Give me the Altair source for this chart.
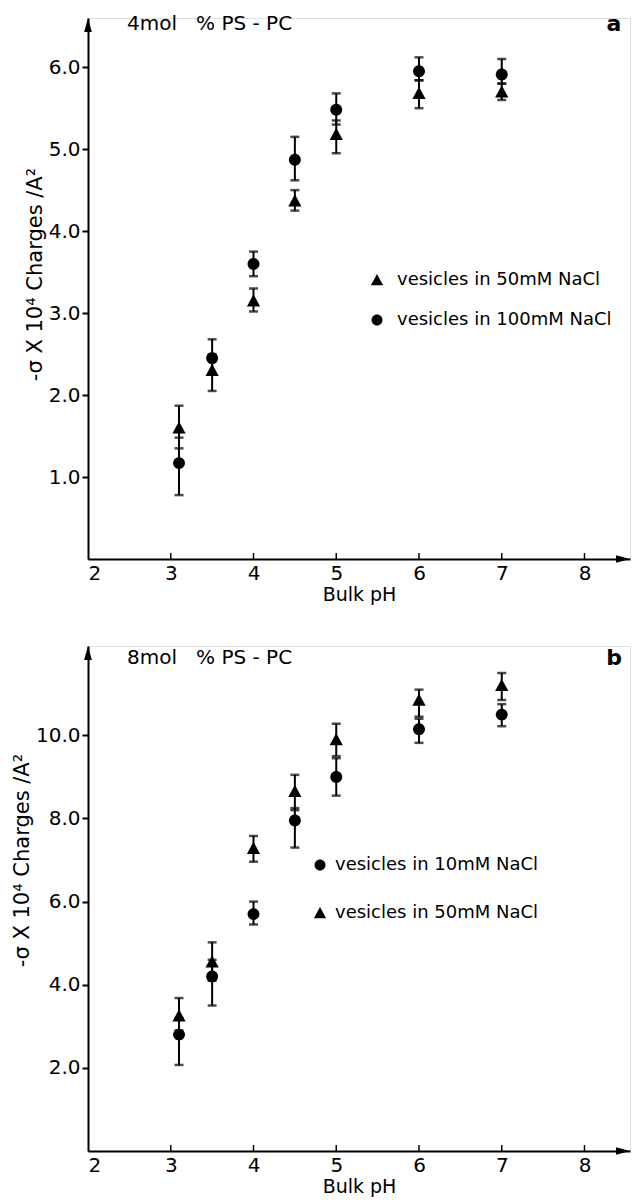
import altair as alt
import pandas as pd

FONT = "DejaVu Sans"

# ---- data ----
ph = [3.1, 3.5, 4.0, 4.5, 5.0, 6.0, 7.0]
x_ticks = [2, 3, 4, 5, 6, 7, 8]
x_minor = [3, 4, 5, 6, 7, 8]

# panel a : 4 mol % PS-PC
a_labels = ["vesicles in 50mM NaCl", "vesicles in 100mM NaCl"]
a_tri = [1.60, 2.30, 3.15, 4.37, 5.18, 5.68, 5.70]
a_tri_lo = [1.35, 2.05, 3.02, 4.25, 4.95, 5.50, 5.60]
a_tri_hi = [1.87, 2.50, 3.30, 4.50, 5.35, 5.84, 5.80]
a_cir = [1.17, 2.45, 3.60, 4.87, 5.48, 5.95, 5.91]
a_cir_lo = [0.78, 2.25, 3.45, 4.62, 5.30, 5.84, 5.80]
a_cir_hi = [1.48, 2.68, 3.75, 5.15, 5.68, 6.12, 6.10]
a_yticks = [1, 2, 3, 4, 5, 6]

# panel b : 8 mol % PS-PC
b_labels = ["vesicles in 10mM NaCl", "vesicles in 50mM NaCl"]
b_cir = [2.80, 4.20, 5.70, 7.95, 9.00, 10.15, 10.50]
b_cir_lo = [2.07, 3.50, 5.45, 7.30, 8.55, 9.82, 10.22]
b_cir_hi = [3.20, 4.60, 6.00, 8.25, 9.45, 10.40, 10.75]
b_tri = [3.25, 4.55, 7.28, 8.65, 9.90, 10.85, 11.20]
b_tri_lo = [2.90, 4.10, 6.96, 8.20, 9.50, 10.45, 10.85]
b_tri_hi = [3.68, 5.02, 7.58, 9.05, 10.28, 11.10, 11.50]
b_yticks = [2, 4, 6, 8, 10]

X_MAX = 8.55
TRI = "M -1 0.85 L 0 -1 L 1 0.85 Z"
CIR = "M -0.9 0 A 0.9 0.9 0 1 0 0.9 0 A 0.9 0.9 0 1 0 -0.9 0 Z"
Y_TITLE = "-σ X 10⁴ Charges /A²"
NB = "\u00a0"


def make_df(labels, series):
    rows = []
    for lab, (v, lo, hi) in zip(labels, series):
        for p, a, b, c in zip(ph, v, lo, hi):
            rows.append(dict(pH=p, value=a, lo=b, hi=c, series=lab))
    return pd.DataFrame(rows)


def panel(df, labels, shapes, y_max, y_ticks, height, heading, letter,
          head_y, lx, ly, row_pad, label_off, title_y):
    xs = alt.Scale(domain=[2, X_MAX], nice=False, zero=False)
    ys = alt.Scale(domain=[0, y_max], nice=False)
    x_axis = alt.Axis(values=x_ticks, format="d", ticks=False, grid=False,
                      domainColor="black", domainWidth=2,
                      labelFont=FONT, labelFontSize=20, labelColor="black",
                      labelPadding=4, title="Bulk pH", titleFont=FONT,
                      titleFontSize=19, titleFontWeight="normal",
                      titleColor="black", titlePadding=2)
    y_axis = alt.Axis(values=y_ticks, format=".1f", grid=False,
                      tickSize=6, tickWidth=2, tickColor="black",
                      domainColor="black", domainWidth=2,
                      labelFont=FONT, labelFontSize=20, labelColor="black",
                      labelPadding=2, title=Y_TITLE, titleFont=FONT,
                      titleFontSize=21, titleFontWeight="normal",
                      titleColor="black", titlePadding=3, titleY=title_y)
    base = alt.Chart(df)
    bars = base.mark_rule(color="black", strokeWidth=2).encode(
        x=alt.X("pH:Q", scale=xs, axis=x_axis),
        y=alt.Y("lo:Q", scale=ys, axis=y_axis),
        y2="hi:Q",
    )
    cap_lo = base.mark_tick(color="black", size=9, thickness=2.5,
                            orient="horizontal").encode(x="pH:Q", y="lo:Q")
    cap_hi = base.mark_tick(color="black", size=9, thickness=2.5,
                            orient="horizontal").encode(x="pH:Q", y="hi:Q")
    pts = base.mark_point(filled=True, opacity=1, color="black", size=175).encode(
        x="pH:Q",
        y="value:Q",
        shape=alt.Shape("series:N", scale=alt.Scale(domain=labels, range=shapes),
                        legend=alt.Legend(orient="none", legendX=lx, legendY=ly,
                                          title=None, labelFont=FONT,
                                          labelFontSize=18, labelColor="black",
                                          labelLimit=0,
                                          symbolFillColor="black",
                                          symbolStrokeColor="black",
                                          symbolSize=150, symbolOpacity=1,
                                          rowPadding=row_pad,
                                          labelOffset=label_off)),
    )
    ticks = alt.Chart(pd.DataFrame({"pH": x_minor})).mark_rule(
        color="black", strokeWidth=1.5).encode(
        x="pH:Q", y=alt.value(height), y2=alt.value(height - 6))
    up = alt.Chart(pd.DataFrame({"pH": [2], "value": [y_max]})).mark_point(
        shape="M -0.55 1 L 0 -1 L 0.55 1 Z", filled=True, color="black",
        opacity=1, size=196, yOffset=7).encode(x="pH:Q", y="value:Q")
    right = alt.Chart(pd.DataFrame({"pH": [X_MAX], "value": [0]})).mark_point(
        shape="M -1 -0.55 L 1 0 L -1 0.55 Z", filled=True, color="black",
        opacity=1, size=196, xOffset=-7).encode(x="pH:Q", y="value:Q")
    head = alt.Chart(pd.DataFrame({"t": [heading]})).mark_text(
        align="left", baseline="middle", font=FONT, fontSize=20,
        color="black").encode(x=alt.value(39), y=alt.value(head_y), text="t:N")
    let = alt.Chart(pd.DataFrame({"t": [letter]})).mark_text(
        align="center", baseline="middle", font=FONT, fontSize=22,
        fontWeight="bold", color="black").encode(
        x=alt.value(526), y=alt.value(head_y), text="t:N")
    return alt.layer(bars, cap_lo, cap_hi, ticks, pts, up, right, head, let).properties(
        width=542, height=height)


df_a = make_df(a_labels, [(a_tri, a_tri_lo, a_tri_hi), (a_cir, a_cir_lo, a_cir_hi)])
df_b = make_df(b_labels, [(b_cir, b_cir_lo, b_cir_hi), (b_tri, b_tri_lo, b_tri_hi)])

head_a = "4mol" + NB * 3 + "%" + NB + "PS" + NB + "-" + NB + "PC"
head_b = "8mol" + NB * 3 + "%" + NB + "PS" + NB + "-" + NB + "PC"

pa = panel(df_a, a_labels, [TRI, CIR], 6.6, a_yticks, 541, head_a, "a",
           6, 280, 253, 22, 11, 256)
pb = panel(df_b, b_labels, [CIR, TRI], 12.15, b_yticks, 505, head_b, "b",
           12, 223, 210, 29, 6, 214)

chart = alt.vconcat(pa, pb, spacing=40).resolve_scale(
    shape="independent", x="independent", y="independent"
).resolve_legend(shape="independent").properties(
    padding={"left": 2, "top": 4, "right": 2, "bottom": 0}
).configure_view(stroke=None).configure(background="white")

chart.save("out.html", embed_options={"renderer": "svg", "actions": False})
